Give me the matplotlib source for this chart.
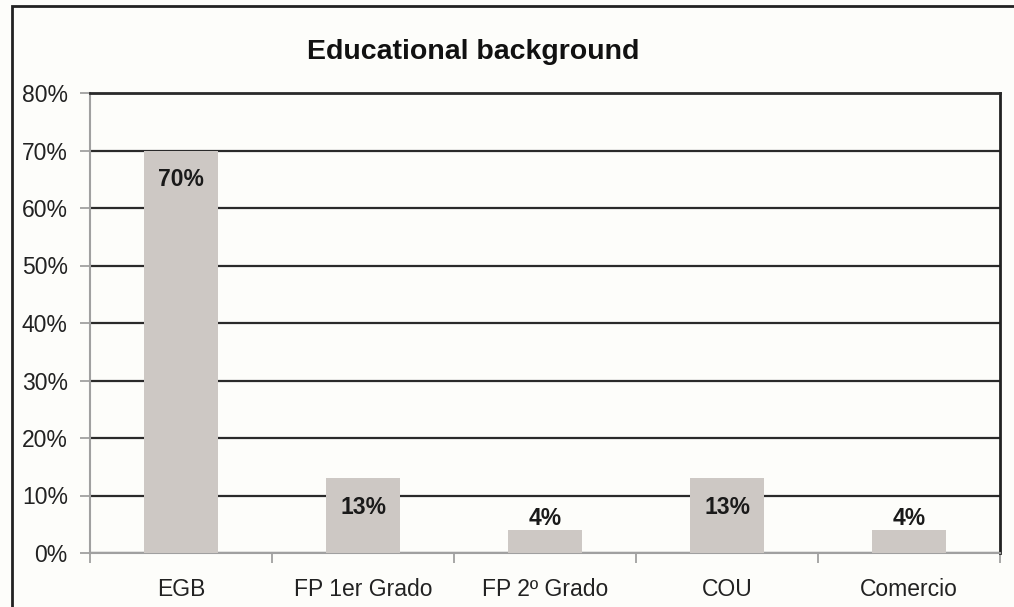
import numpy as np
import matplotlib
matplotlib.use('Agg')
import matplotlib.pyplot as plt
from matplotlib.patches import Rectangle
from matplotlib.ticker import FuncFormatter

plt.rcParams['font.family'] = ['Liberation Sans', 'DejaVu Sans']

categories = ['EGB', 'FP 1er Grado', 'FP 2º Grado', 'COU', 'Comercio']
shares = [70, 13, 4, 13, 4]
yticks = [0, 10, 20, 30, 40, 50, 60, 70, 80]

bg = '#fdfdfa'
bar_color = '#cdc8c4'
grid_color = '#2a2a2a'

fig = plt.figure(figsize=(10.14, 6.07), dpi=100, facecolor=bg)
ax = fig.add_axes([90 / 1014, 54 / 607, 910 / 1014, 460 / 607], facecolor=bg)

# outer chart frame (only top and left edges fall inside the canvas)
fig.add_artist(Rectangle((12 / 1014, -0.1), 1.2, (601 / 607) + 0.1,
                         transform=fig.transFigure, fill=False,
                         edgecolor='#222222', linewidth=2))

x = np.arange(len(categories))
ax.bar(x, shares, width=0.41, color=bar_color, zorder=3)

for xi, v in zip(x, shares):
    # tall bars get the label inside, short ones just above
    dy = -21 if v >= 10 else 8
    ax.annotate(f'{v}%', (xi, v), xytext=(0, dy), textcoords='offset points',
                ha='center', va='center', fontsize=16.5, fontweight='bold',
                color='#1a1a1a', zorder=4)

ax.set_xlim(-0.5, len(categories) - 0.5)
ax.set_ylim(0, 80)
ax.set_yticks(yticks)
ax.yaxis.set_major_formatter(FuncFormatter(lambda v, p: f'{v:.0f}%'))
ax.yaxis.grid(True, color=grid_color, linewidth=1.6, zorder=1)
ax.set_axisbelow(True)

# category labels centred, ticks on the boundaries
ax.set_xticks(x)
ax.set_xticklabels(categories)
ax.set_xticks(np.arange(len(categories) + 1) - 0.5, minor=True)
ax.tick_params(axis='x', which='major', length=0, pad=18, labelsize=16.5, labelcolor='#222222')
ax.tick_params(axis='x', which='minor', length=7, width=1.3, color='#a0a0a0', direction='out')
ax.tick_params(axis='y', length=7, width=1.3, color='#a0a0a0', pad=9,
               labelsize=16.5, labelcolor='#222222')

ax.spines['left'].set_color('#a0a0a0')
ax.spines['left'].set_linewidth(1.5)
ax.spines['bottom'].set_color('#a0a0a0')
ax.spines['bottom'].set_linewidth(1.5)
ax.spines['top'].set_color(grid_color)
ax.spines['top'].set_linewidth(2)
ax.spines['right'].set_color('#222222')
ax.spines['right'].set_linewidth(2)

fig.text(473 / 1014, 1 - 52 / 607, 'Educational background', ha='center', va='center',
         fontsize=20.5, fontweight='bold', color='#111111')

fig.savefig('out.png', dpi=100, facecolor=bg)
